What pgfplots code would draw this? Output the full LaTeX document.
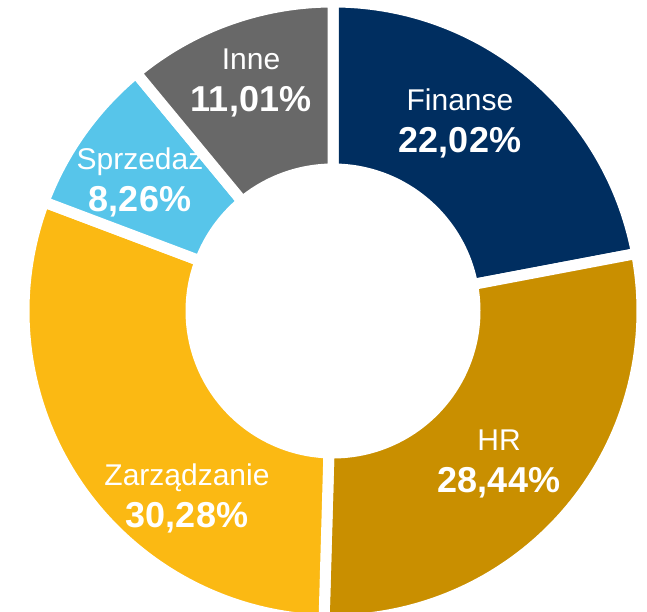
\documentclass[border=0pt]{standalone}
\usepackage{fontspec}
\setmainfont{Liberation Sans}
\usepackage{pgfplots}
\pgfplotsset{compat=1.18}
\usetikzlibrary{calc}
\definecolor{fin}{RGB}{0,46,96}
\definecolor{hr}{RGB}{201,143,0}
\definecolor{zarz}{RGB}{251,185,19}
\definecolor{sprz}{RGB}{87,197,234}
\definecolor{inne}{RGB}{104,104,104}
% #1 colour, #2 cumulative start (%), #3 value (%)
\newcommand{\slice}[3]{%
  \fill[#1, draw=white, line width=11bp]
   ($(axis cs:333,301)+({90-3.6*(#2)}:309bp)$)
   arc[start angle={90-3.6*(#2)}, end angle={90-3.6*((#2)+(#3))}, radius=309bp]
   -- ($(axis cs:333,301)+({90-3.6*((#2)+(#3))}:142bp)$)
   arc[start angle={90-3.6*((#2)+(#3))}, end angle={90-3.6*(#2)}, radius=142bp]
   -- cycle;}
\newcommand{\namefont}{\fontsize{30bp}{34bp}\selectfont}
\newcommand{\pctfont}{\fontsize{36bp}{40bp}\selectfont\bfseries}
\begin{document}
\begin{tikzpicture}
\begin{axis}[
  width=647bp, height=612bp, scale only axis,
  xmin=0, xmax=647, ymin=0, ymax=612,
  hide axis, clip=true]
\addplot[draw=none] coordinates {(0,0) (647,612)};
\slice{fin}{0}{22.02}
\slice{hr}{22.02}{28.44}
\slice{zarz}{50.46}{30.28}
\slice{sprz}{80.74}{8.26}
\slice{inne}{89.00}{11.01}
\node[anchor=base, text=white, font=\namefont] at (axis cs:460,501) {Finanse};
\node[anchor=base, text=white, font=\pctfont] at (axis cs:460,459) {22,02\%};
\node[anchor=base, text=white, font=\namefont] at (axis cs:499,161) {HR};
\node[anchor=base, text=white, font=\pctfont] at (axis cs:499,119) {28,44\%};
\node[anchor=base, text=white, font=\namefont] at (axis cs:187,126) {Zarządzanie};
\node[anchor=base, text=white, font=\pctfont] at (axis cs:187,84) {30,28\%};
\node[anchor=base, text=white, font=\namefont] at (axis cs:140,442) {Sprzedaz};
\node[anchor=base, text=white, font=\pctfont] at (axis cs:140,400) {8,26\%};
\node[anchor=base, text=white, font=\namefont] at (axis cs:251,542) {Inne};
\node[anchor=base, text=white, font=\pctfont] at (axis cs:251,500) {11,01\%};
\end{axis}
\end{tikzpicture}
\end{document}
